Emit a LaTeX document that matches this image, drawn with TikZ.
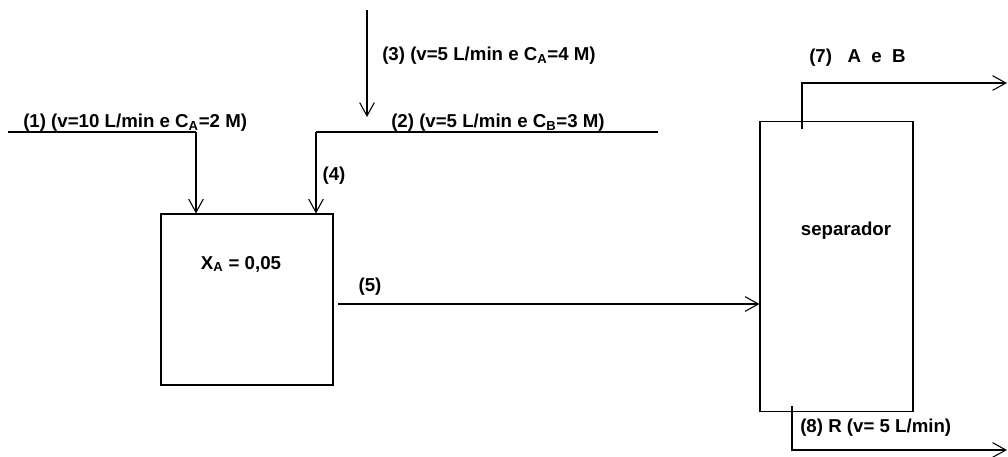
\documentclass[tikz,border=0pt]{standalone}
\usepackage{fontspec}
\setmainfont{Liberation Sans}
\usetikzlibrary{arrows.meta}
\begin{document}
\begin{tikzpicture}[x=0.75pt,y=-0.75pt,
  flow/.style={line width=0.8pt,-{Straight Barb[length=10pt,width=11pt,line width=0.8pt]}},
  pipe/.style={line width=0.8pt},
  unit/.style={draw,line width=0.8pt,inner sep=0pt},
  lbl/.style={font=\bfseries\fontsize{14}{16}\selectfont,inner sep=0pt}]
\useasboundingbox (0,0) rectangle (1008,457);
% units
\node[unit,minimum width=172*0.75pt,minimum height=171*0.75pt] (R) at (247,299.5) {};
\node[unit,minimum width=153*0.75pt,minimum height=290*0.75pt] (S) at (836.5,266.5) {};
\node[lbl] (xa) at (241,264) {X\textsubscript{A} = 0,05};
\node[lbl] (sep) at (846,231) {separador};
% coordinates
\coordinate (in1) at (8,132);
\coordinate (j1) at (196,132);
\coordinate (in2) at (658,132);
\coordinate (j2) at (316,132);
\coordinate (in3) at (367,10);
\coordinate (e3) at (367,117);
\coordinate (o5) at (338,304);
\coordinate (s7) at (802,129);
\coordinate (c7) at (802,83);
\coordinate (e7) at (1007,83);
\coordinate (s8) at (792,406);
\coordinate (c8) at (792,450);
\coordinate (e8) at (1007,450);
% streams
\draw[pipe] (in1) -- (j1);
\draw[flow] (j1) -- (j1 |- R.north);
\draw[pipe] (in2) -- (j2);
\draw[flow] (j2) -- (j2 |- R.north);
\draw[flow] (in3) -- (e3);
\draw[flow] (o5) -- (S.west |- o5);
\draw[flow] (s7) -- (c7) -- (e7);
\draw[flow] (s8) -- (c8) -- (e8);
% labels
\node[lbl,anchor=west] (l1) at (23,123) {(1) (v=10 L/min e C\textsubscript{A}=2 M)};
\node[lbl,anchor=west] (l2) at (391,123) {(2) (v=5 L/min e C\textsubscript{B}=3 M)};
\node[lbl,anchor=west] (l3) at (382,56) {(3) (v=5 L/min e C\textsubscript{A}=4 M)};
\node[lbl] (l4) at (334,176) {(4)};
\node[lbl] (l5) at (370,287) {(5)};
\node[lbl,anchor=west] (l7) at (809,58) {(7)\ \ \ A\ \ e\ \ B};
\node[lbl,anchor=west] (l8) at (800,428) {(8) R (v= 5 L/min)};
\end{tikzpicture}
\end{document}
